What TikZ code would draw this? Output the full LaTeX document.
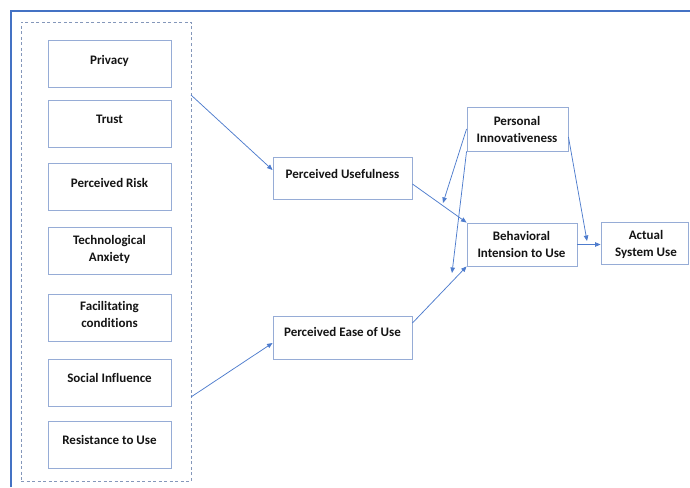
\documentclass[tikz,border=0pt]{standalone}
\usepackage{fontspec}
\setmainfont{Carlito}[Ligatures={NoCommon}]
\usetikzlibrary{arrows.meta}
\definecolor{framec}{RGB}{68,114,196}
\definecolor{boxc}{RGB}{150,172,214}
\definecolor{dashc}{RGB}{132,151,186}
\definecolor{arrowc}{RGB}{78,124,205}
\definecolor{txtc}{RGB}{20,20,20}
\begin{document}
\begin{tikzpicture}[x=1pt,y=-1pt,
  box/.style={draw=boxc, line width=0.9pt, inner sep=0pt, fill=white},
  leftbox/.style={box, minimum width=123pt, minimum height=47pt},
  lbl/.style={font=\fontsize{13}{17}\selectfont\bfseries, text=txtc,
              inner sep=0pt, anchor=base, align=center},
  link/.style={draw=arrowc, line width=0.75pt,
               -{Triangle[length=5.5pt,width=4.5pt]}},
  groupbox/.style={draw=dashc, line width=0.8pt, dash pattern=on 3pt off 2.5pt,
                   inner sep=0pt, minimum width=170pt, minimum height=459pt}]
\useasboundingbox (0,0) rectangle (690,487);

% outer frame
\draw[framec, line width=2pt] (11,487) -- (11,11.5) -- (690,11.5);

% dashed group of antecedents
\node[groupbox] (grp) at (106,251.5) {};

% antecedent boxes (label nodes sit on the baseline of their last line)
\node[leftbox] (privacy) at (109.5,63.5) {};
\node[lbl] (privacy-t) at (109.5,64.3) {Privacy};
\node[leftbox] (trust) at (109.5,123.5) {};
\node[lbl] (trust-t) at (109.5,123.8) {Trust};
\node[leftbox] (risk) at (109.5,186.5) {};
\node[lbl] (risk-t) at (109.5,187) {Perceived Risk};
\node[leftbox] (anxiety) at (109.5,250.5) {};
\node[lbl] (anxiety-t) at (109.5,261) {Technological\\Anxiety};
\node[leftbox] (facil) at (109.5,317.5) {};
\node[lbl] (facil-t) at (109.5,327.7) {Facilitating\\conditions};
\node[leftbox] (social) at (109.5,382.5) {};
\node[lbl] (social-t) at (109.5,382.3) {Social Influence};
\node[leftbox] (resist) at (109.5,444.5) {};
\node[lbl] (resist-t) at (109.5,444) {Resistance to Use};

% model constructs
\node[box, minimum width=139pt, minimum height=42pt] (pu) at (342.5,178) {};
\node[lbl] (pu-t) at (342.5,178.3) {Perceived Usefulness};
\node[box, minimum width=139pt, minimum height=43pt] (peou) at (342.5,337.5) {};
\node[lbl] (peou-t) at (342.5,336.7) {Perceived Ease of Use};
\node[box, minimum width=101pt, minimum height=44pt] (pi) at (517.5,129) {};
\node[lbl] (pi-t) at (517,142.3) {Personal\\Innovativeness};
\node[box, minimum width=110pt, minimum height=43pt] (bi) at (522,244.5) {};
\node[lbl] (bi-t) at (521.5,257.3) {Behavioral\\Intension to Use};
\node[box, minimum width=87pt, minimum height=42pt] (asu) at (644.5,243) {};
\node[lbl] (asu-t) at (646,256.7) {Actual\\System Use};

% connector end points
\coordinate (g1) at (191,95);
\coordinate (g2) at (191,397);
\coordinate (tipA) at (443,203);
\coordinate (tipB) at (452,273);
\coordinate (tipC) at (587,241);

% connectors
\draw[link] (g1) -- ([yshift=8pt]pu.west);
\draw[link] (g2) -- ([yshift=-5.5pt]peou.west);
\draw[link] ([yshift=-6pt]pu.east) -- (bi.north west);
\draw[link] ([yshift=14.5pt]peou.east) -- (bi.south west);
\draw[link] (pi.west) -- (tipA);
\draw[link] (pi.south west) -- (tipB);
\draw[link] ([yshift=-8pt]pi.east) -- (tipC);
\draw[link] (bi.east) -- (bi.east -| asu.west);
\end{tikzpicture}
\end{document}
